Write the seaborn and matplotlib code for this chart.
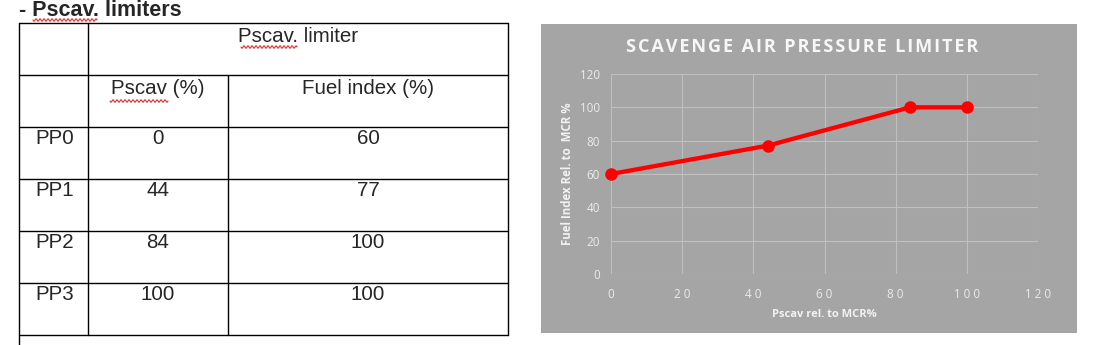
import numpy as np
import matplotlib
matplotlib.use("Agg")
import matplotlib.pyplot as plt
from matplotlib.patches import Rectangle
import seaborn as sns

# ---- data ----
points = ["PP0", "PP1", "PP2", "PP3"]
pscav = [0, 44, 84, 100]
fuel_index = [60, 77, 100, 100]
x_ticks = [0, 20, 40, 60, 80, 100, 120]
y_ticks = [0, 20, 40, 60, 80, 100, 120]

sns.set_theme(style="white")
plt.rcParams['font.family'] = ['Liberation Sans', 'DejaVu Sans']

W, H = 1093, 345
fig = plt.figure(figsize=(W / 100, H / 100), dpi=100)
fig.patch.set_facecolor("white")

# background axes in pixel coordinates (table + panel)
bg = fig.add_axes([0, 0, 1, 1])
bg.set_xlim(0, W)
bg.set_ylim(H, 0)
bg.axis("off")

# ---- table ----
tx0, tx1 = 19, 508
col1, col2 = 88, 228
rows_y = [23, 75, 127, 179, 231, 283, 335]
lc = "black"
lw = 1.0
bg.plot([tx0, tx0], [rows_y[0], H], color=lc, lw=lw)
bg.plot([tx1, tx1], [rows_y[0], rows_y[-1]], color=lc, lw=lw)
for y in rows_y:
    bg.plot([tx0, tx1], [y, y], color=lc, lw=lw)
bg.plot([col1, col1], [rows_y[0], rows_y[-1]], color=lc, lw=lw)
bg.plot([col2, col2], [rows_y[1], rows_y[-1]], color=lc, lw=lw)

fs = 14.8
bg.text(19, 10.5, "- Pscav. limiters", fontsize=15.5, fontweight="bold",
        ha="left", va="center")
bg.text((col1 + tx1) / 2, 36, "Pscav. limiter", fontsize=fs, ha="center", va="center")
bg.text((col1 + col2) / 2, 88, "Pscav (%)", fontsize=fs, ha="center", va="center")
bg.text((col2 + tx1) / 2, 88, "Fuel index (%)", fontsize=fs, ha="center", va="center")
for i, (p, ps, fi) in enumerate(zip(points, pscav, fuel_index)):
    yc = rows_y[i + 2] + 12
    bg.text(35, yc, p, fontsize=fs, ha="left", va="center")
    bg.text((col1 + col2) / 2, yc, str(ps), fontsize=fs, ha="center", va="center")
    bg.text((col2 + tx1) / 2, yc, str(fi), fontsize=fs, ha="center", va="center")

# spell-check wavy underlines
def wavy(x0, x1, y):
    xs = np.linspace(x0, x1, 200)
    ys = y + 1.2 * np.sin((xs - x0) / 4.0 * 2 * np.pi)
    bg.plot(xs, ys, color="#e03030", lw=0.8)

wavy(33, 97, 20)
wavy(241, 297, 47)
wavy(110, 168, 101)

# ---- chart panel ----
panel_col = "#A5A5A5"
bg.add_patch(Rectangle((541, 24), 1077 - 541, 333 - 24, facecolor=panel_col,
                       edgecolor="none", zorder=0))

axl, axr, axt, axb = 611, 1038, 74, 274
ax = fig.add_axes([axl / W, (H - axb) / H, (axr - axl) / W, (axb - axt) / H])
ax.set_facecolor(panel_col)

sns.lineplot(x=pscav, y=fuel_index, ax=ax, color="#FF0000", linewidth=3.1,
             marker="o", markersize=9, markeredgewidth=0, zorder=5, clip_on=False)

ax.set_xlim(0, 120)
ax.set_ylim(0, 120)
ax.set_xticks(x_ticks)
ax.set_yticks(y_ticks)
ax.grid(True, color="#C0C0C0", linewidth=0.8)
for s in ax.spines.values():
    s.set_visible(False)

tick_font = ['Open Sans', 'DejaVu Sans']
ax.tick_params(axis="both", length=0, colors="#EBEBEB")
ax.tick_params(axis="y", pad=8)
ax.tick_params(axis="x", pad=10)
ax.set_xticklabels([" ".join(str(t)) for t in x_ticks])
for lab in ax.get_xticklabels() + ax.get_yticklabels():
    lab.set_family(tick_font)
    lab.set_fontsize(8.4)

ax.set_xlabel("Pscav rel. to MCR%", family=tick_font, fontsize=8, fontweight="bold",
              color="#F2F2F2", labelpad=6)
ax.set_ylabel("Fuel Index Rel. to  MCR %", family=tick_font, fontsize=8.3,
              fontweight="bold", color="#F2F2F2", labelpad=4)

title = "SCAVENGE AIR PRESSURE LIMITER"
title_spaced = "\u200a".join(title)
fig.text(802 / W, 1 - 47 / H, title_spaced, family=tick_font,
         fontsize=13.1, fontweight="bold", color="#F7F7F7", ha="center", va="center")

fig.savefig("out.png", dpi=100, facecolor="white")
